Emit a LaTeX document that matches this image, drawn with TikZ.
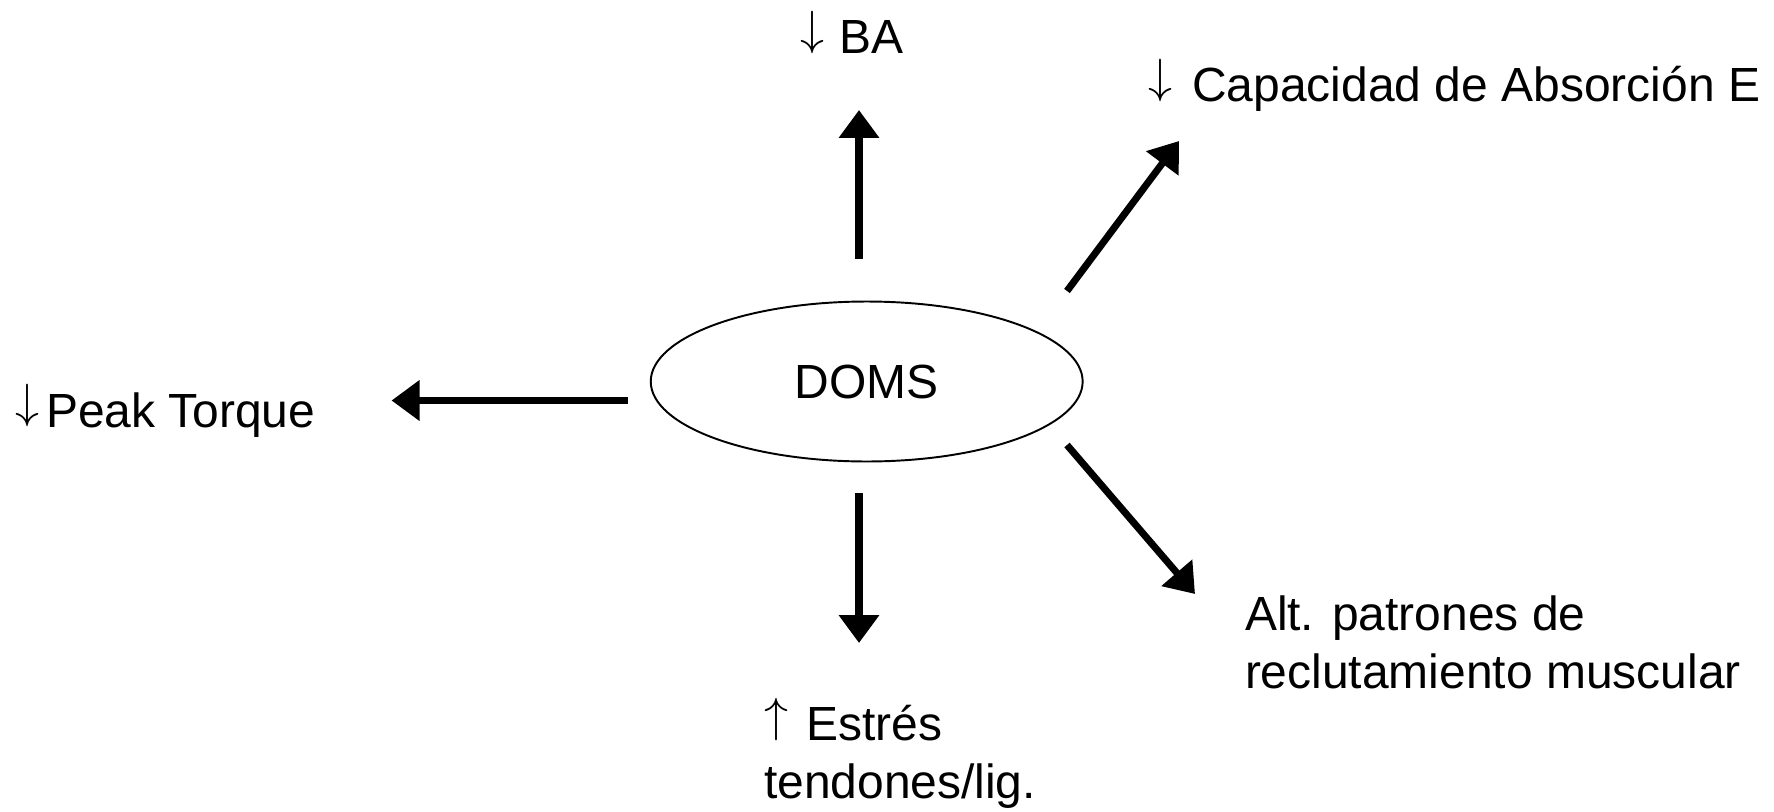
\RequirePackage{fix-cm}
\documentclass[tikz,border=0pt]{standalone}
\usepackage{fontspec}
\setmainfont{Liberation Sans}
\usetikzlibrary{shapes.geometric,arrows.meta}
\newcommand{\dnarr}{\raisebox{0.194em}{$\downarrow$}}
\newcommand{\uparr}{\raisebox{0.194em}{$\uparrow$}}
\begin{document}
\begin{tikzpicture}[x=0.02cm,y=-0.02cm,
  lbl/.style={inner sep=0pt,outer sep=0pt,font=\fontsize{27.3pt}{32.6pt}\selectfont,align=left},
  arr/.style={line width=4pt,-{Triangle[length=0.56cm,width=0.78cm]}},
  oval/.style={draw,ellipse,line width=1.1pt,inner sep=0pt,minimum width=8.64cm,minimum height=3.2cm,font=\fontsize{27.3pt}{32.6pt}\selectfont}]
\useasboundingbox[fill=white] (0,0) rectangle (1774,811);
\node[oval] (doms) at (866.7,381.5) {DOMS};
\node[lbl,anchor=base west] (ba) at (800,54) {\dnarr{}\hspace{1pt} BA};
\node[lbl,anchor=base west] (cap) at (1148,102) {\dnarr{}\hspace{4pt} Capacidad de Absorción E};
\node[lbl,anchor=base west] (peak) at (15,427) {\dnarr{}\hspace{4pt}Peak Torque};
\node[lbl,anchor=base west] (est) at (764,798) {\uparr{}\hspace{3pt} Estrés\\tendones/lig.};
\node[lbl,anchor=base west] (alt) at (1245,688) {Alt. patrones de\\reclutamiento muscular};
\coordinate (u0) at (859,259); \coordinate (u1) at (859,110);
\coordinate (l0) at (628,400.5); \coordinate (l1) at (391.5,400.5);
\coordinate (ne0) at (1067,291); \coordinate (ne1) at (1179,141);
\coordinate (d0) at (859,493); \coordinate (d1) at (859,643);
\coordinate (se0) at (1067,445); \coordinate (se1) at (1195,594);
\draw[arr] (u0) -- (u1);
\draw[arr] (l0) -- (l1);
\draw[arr] (ne0) -- (ne1);
\draw[arr] (d0) -- (d1);
\draw[arr] (se0) -- (se1);
\end{tikzpicture}
\end{document}
